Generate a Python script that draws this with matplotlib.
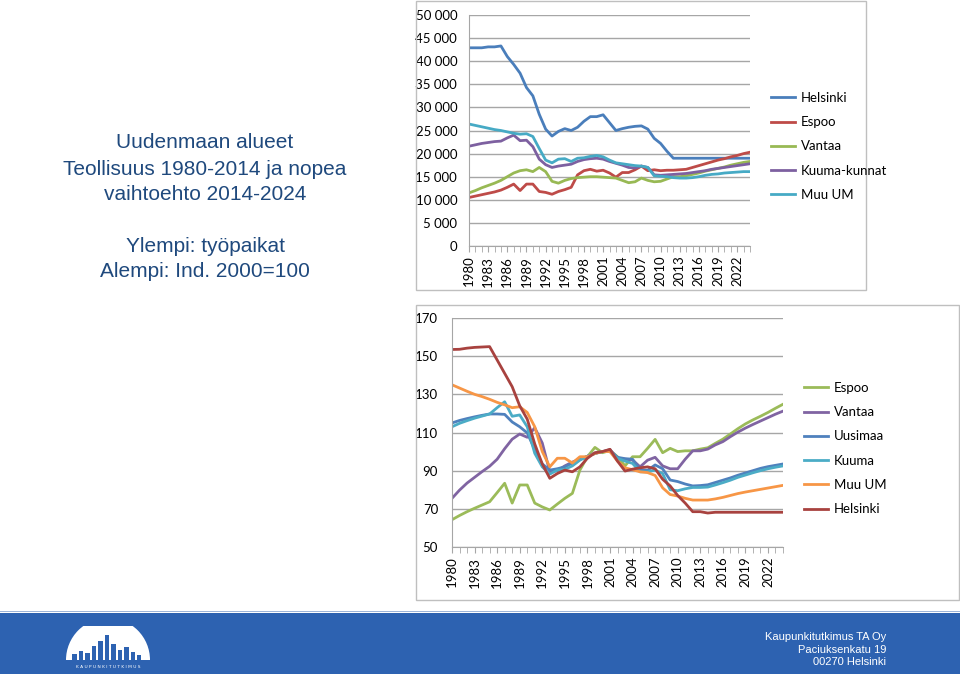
import matplotlib
matplotlib.use("Agg")
import matplotlib.pyplot as plt
import matplotlib.patches as mpatches
from matplotlib.ticker import FuncFormatter

years = list(range(1980, 2025))
year_labels = list(range(1980, 2023, 3))

# top chart: jobs (thousands)
top_names = ["Helsinki", "Espoo", "Vantaa", "Kuuma-kunnat", "Muu UM"]
helsinki_jobs = [42.9, 42.9, 42.9, 43.1, 43.1, 43.3, 41.0, 39.3, 37.4, 34.3, 32.5, 28.5, 25.3, 23.8, 24.8,
                 25.4, 25.0, 25.7, 27.0, 28.0, 28.0, 28.4, 26.7, 25.0, 25.4, 25.7, 25.9, 26.0, 25.3, 23.3,
                 22.2, 20.5, 19.0, 19.0, 19.0, 19.0, 19.0, 19.0, 19.0, 19.0, 19.0, 19.0, 19.0, 19.0, 19.0]
espoo_jobs = [10.5, 10.8, 11.1, 11.4, 11.7, 12.1, 12.7, 13.4, 12.0, 13.4, 13.4, 11.8, 11.6, 11.2, 11.8,
              12.2, 12.7, 15.4, 16.3, 16.6, 16.2, 16.4, 15.8, 14.9, 15.9, 15.9, 16.5, 17.3, 16.3, 16.5,
              16.3, 16.4, 16.4, 16.5, 16.6, 17.0, 17.4, 17.8, 18.2, 18.6, 18.9, 19.3, 19.6, 20.0, 20.3]
vantaa_jobs = [11.5, 12.0, 12.6, 13.1, 13.6, 14.2, 15.0, 15.8, 16.3, 16.5, 16.1, 17.0, 16.1, 14.0, 13.6,
               14.2, 14.6, 14.8, 14.9, 15.0, 15.0, 14.9, 14.8, 14.7, 14.2, 13.7, 13.9, 14.7, 14.2, 13.9,
               14.0, 14.5, 15.0, 15.0, 15.2, 15.5, 15.8, 16.2, 16.5, 16.8, 17.1, 17.5, 17.8, 18.1, 18.3]
kuuma_jobs = [21.6, 21.9, 22.2, 22.4, 22.6, 22.7, 23.4, 24.0, 22.8, 22.9, 21.5, 18.8, 17.6, 17.0, 17.3,
              17.5, 17.7, 18.3, 18.7, 18.9, 19.0, 18.8, 18.3, 17.9, 17.5, 17.0, 16.9, 17.3, 17.0, 15.4,
              15.3, 15.4, 15.5, 15.6, 15.7, 15.9, 16.1, 16.3, 16.6, 16.8, 17.0, 17.2, 17.4, 17.6, 17.8]
muu_jobs = [26.4, 26.1, 25.8, 25.5, 25.2, 25.0, 24.7, 24.4, 24.2, 24.3, 23.7, 21.1, 18.6, 18.0, 18.8,
            18.9, 18.3, 19.0, 19.1, 19.4, 19.6, 19.3, 18.6, 18.0, 17.8, 17.6, 17.4, 17.3, 17.0, 15.2,
            15.1, 15.0, 14.8, 14.7, 14.7, 14.8, 15.0, 15.3, 15.5, 15.6, 15.8, 15.9, 16.0, 16.1, 16.1]
top_yticks = list(range(0, 50001, 5000))

# bottom chart: index 2000=100
bottom_names = ["Espoo", "Vantaa", "Uusimaa", "Kuuma", "Muu UM", "Helsinki"]
espoo_idx = [64.3, 66.5, 68.5, 70.3, 72.0, 73.7, 78.5, 83.4, 73.0, 82.5, 82.5, 73.0, 71.0, 69.4, 72.5,
             75.5, 78.1, 90.3, 97.3, 102.2, 99.4, 100.6, 97.3, 92.5, 97.3, 97.3, 101.7, 106.4, 99.4, 101.7,
             100.0, 100.4, 100.4, 101.3, 102.0, 104.3, 106.5, 109.2, 112.0, 114.5, 116.6, 118.5, 120.5, 122.7, 124.8]
vantaa_idx = [75.5, 79.8, 83.5, 86.5, 89.5, 92.3, 96.0, 101.5, 106.5, 109.2, 107.5, 112.5, 104.5, 89.5, 90.0,
              92.5, 94.5, 96.0, 97.5, 99.2, 100.0, 101.0, 96.5, 96.0, 95.6, 92.0, 95.5, 97.0, 92.5, 91.0,
              91.0, 96.0, 100.4, 100.4, 101.3, 103.5, 105.2, 107.8, 110.2, 112.3, 114.2, 116.0, 117.8, 119.6, 121.2]
uusimaa_idx = [115.0, 116.3, 117.3, 118.2, 119.0, 119.7, 119.7, 119.5, 115.5, 113.0, 109.8, 101.0, 93.5, 90.3, 91.0,
               92.0, 94.0, 96.0, 97.5, 99.0, 100.0, 100.5, 97.0, 96.3, 96.0, 90.5, 90.2, 93.0, 91.0, 85.1,
               84.3, 83.0, 82.0, 82.2, 82.6, 83.8, 85.0, 86.2, 87.6, 88.8, 90.0, 91.2, 92.1, 92.8, 93.5]
kuuma_idx = [113.0, 114.8, 116.2, 117.5, 118.6, 119.7, 123.0, 126.1, 118.5, 119.2, 113.0, 99.1, 92.0, 88.2, 90.3,
             90.7, 92.5, 95.5, 97.5, 99.0, 100.0, 100.0, 96.5, 95.0, 93.8, 89.4, 89.4, 90.3, 88.5, 80.0,
             79.5, 80.5, 81.2, 81.2, 81.4, 82.5, 83.7, 85.0, 86.5, 87.7, 88.9, 90.0, 91.0, 91.8, 92.5]
muu_idx = [135.0, 133.3, 131.6, 130.0, 128.8, 127.4, 125.8, 124.5, 123.0, 123.5, 120.5, 113.0, 100.0, 92.0, 96.5,
           96.5, 94.0, 97.3, 97.3, 99.0, 100.0, 100.0, 95.0, 91.5, 90.5, 89.4, 89.0, 87.5, 81.0, 77.5,
           76.7, 75.5, 74.6, 74.6, 74.6, 75.2, 76.0, 77.0, 78.0, 78.8, 79.5, 80.2, 80.9, 81.6, 82.3]
helsinki_idx = [153.5, 153.6, 154.2, 154.6, 154.8, 155.0, 148.0, 141.0, 134.0, 124.0, 117.0, 104.0, 93.5, 86.0, 88.5,
                90.3, 89.4, 92.0, 96.5, 99.4, 100.0, 101.2, 95.0, 89.8, 90.8, 91.5, 92.0, 91.0, 85.5, 82.0,
                77.0, 73.0, 68.5, 68.5, 67.8, 68.2, 68.2, 68.2, 68.2, 68.2, 68.2, 68.2, 68.2, 68.2, 68.2]
bottom_yticks = [50, 70, 90, 110, 130, 150, 170]

top_colors = ["#4A7EBB", "#BE4B48", "#98B954", "#7D60A0", "#46AAC5"]
bottom_colors = ["#9BBB59", "#8064A2", "#4F81BD", "#4BACC6", "#F79646", "#A8423F"]

W, H = 960, 674
TICK_FONT = "Lato"
BANNER = "#2D62B1"


def fbox(x0, y0, x1, y1):
    # pixel box (top-left origin) -> figure fraction rect
    return [x0 / W, 1 - y1 / H, (x1 - x0) / W, (y1 - y0) / H]


def style_axes(ax, yticks, fmt, ypad):
    ax.set_xlim(1980, 2024)
    ax.set_ylim(yticks[0], yticks[-1])
    ax.set_yticks(yticks)
    ax.yaxis.set_major_formatter(FuncFormatter(fmt))
    ax.grid(axis="y", color="#A6A6A6", lw=1.0)
    ax.set_axisbelow(True)
    for s in ["top", "right"]:
        ax.spines[s].set_visible(False)
    ax.spines["left"].set_color("#A6A6A6")
    ax.spines["bottom"].set_color("#A6A6A6")
    ax.set_xticks(years, minor=True)
    ax.set_xticks(year_labels)
    ax.set_xticklabels([str(y) for y in year_labels], rotation=90, fontsize=9.5, family=TICK_FONT)
    ax.tick_params(axis="x", which="both", direction="out", length=4, color="#A6A6A6", pad=3)
    ax.tick_params(axis="y", length=0, labelsize=9.5, pad=ypad)
    for lab in ax.get_yticklabels():
        lab.set_family(TICK_FONT)


fig = plt.figure(figsize=(9.6, 6.74), dpi=100)

# panel frames
fig.add_artist(mpatches.Rectangle((416 / W, 1 - 290 / H), 450 / W, 289 / H, transform=fig.transFigure,
                                  fill=False, edgecolor="#BFBFBF", lw=1.0))
fig.add_artist(mpatches.Rectangle((416 / W, 1 - 600 / H), 543 / W, 295 / H, transform=fig.transFigure,
                                  fill=False, edgecolor="#BFBFBF", lw=1.0))

# top chart
ax1 = fig.add_axes(fbox(469, 15, 750, 246))
top_series = [helsinki_jobs, espoo_jobs, vantaa_jobs, kuuma_jobs, muu_jobs]
for name, vals, col in zip(top_names, top_series, top_colors):
    ax1.plot(years, [v * 1000 for v in vals], color=col, lw=2.0, label=name)
style_axes(ax1, top_yticks, lambda v, p: f"{int(v):,}".replace(",", " "), 8.5)
fig.legend(*ax1.get_legend_handles_labels(), loc="upper left", bbox_to_anchor=(759 / W, 1 - 80 / H),
           frameon=False, prop={"family": TICK_FONT, "size": 9.5}, handlelength=1.8,
           labelspacing=0.93, handletextpad=0.5)

# bottom chart
ax2 = fig.add_axes(fbox(452, 318, 783, 547))
bottom_series = [espoo_idx, vantaa_idx, uusimaa_idx, kuuma_idx, muu_idx, helsinki_idx]
for name, vals, col in zip(bottom_names, bottom_series, bottom_colors):
    ax2.plot(years, vals, color=col, lw=2.0, label=name)
style_axes(ax2, bottom_yticks, lambda v, p: f"{int(v)}", 10)
fig.legend(*ax2.get_legend_handles_labels(), loc="upper left", bbox_to_anchor=(792 / W, 1 - 370 / H),
           frameon=False, prop={"family": TICK_FONT, "size": 9.5}, handlelength=1.8,
           labelspacing=0.93, handletextpad=0.5)

# left title text
title_color = "#1F497D"
for txt, y in [("Uudenmaan alueet", 143), ("Teollisuus 1980-2014 ja nopea", 170),
               ("vaihtoehto 2014-2024", 195), ("Ylempi: työpaikat", 246),
               ("Alempi: Ind. 2000=100", 271)]:
    fig.text(205 / W, 1 - y / H, txt, ha="center", va="center", fontsize=15,
             family="Liberation Sans", color=title_color)

# footer banner
fig.add_artist(mpatches.Rectangle((0, 1 - 612 / H), 1, 1.5 / H, transform=fig.transFigure,
                                  facecolor="#9DB4D8", edgecolor="none", zorder=-2))
fig.add_artist(mpatches.Rectangle((0, 0), 1, 1 - 613 / H, transform=fig.transFigure,
                                  facecolor=BANNER, edgecolor="none", zorder=-2))

# simple logo: white dome with a skyline cut out
logo = fig.add_axes(fbox(60, 626, 158, 672))
logo.set_xlim(0, 98)
logo.set_ylim(0, 46)
logo.axis("off")
logo.patch.set_alpha(0)
logo.add_patch(mpatches.Wedge((48, 12), 42, 0, 180, facecolor="white", edgecolor="none"))
for x0, w, h in [(12, 5, 6), (19, 4, 9), (25, 5, 7), (32, 4, 14), (38, 5, 19), (45, 4, 25),
                 (51, 5, 16), (58, 4, 10), (64, 5, 13), (71, 4, 8), (77, 4, 5)]:
    logo.add_patch(mpatches.Rectangle((x0, 12), w, h, facecolor=BANNER, edgecolor="none"))
logo.text(48, 5, "K A U P U N K I T U T K I M U S", ha="center", va="center",
          fontsize=3.2, color="white", family="DejaVu Sans")

for txt, y in [("Kaupunkitutkimus TA Oy", 637), ("Paciuksenkatu 19", 650), ("00270 Helsinki", 662)]:
    fig.text(886 / W, 1 - y / H, txt, ha="right", va="center", fontsize=8,
             family="Liberation Sans", color="white")

fig.savefig("out.png", dpi=100)
